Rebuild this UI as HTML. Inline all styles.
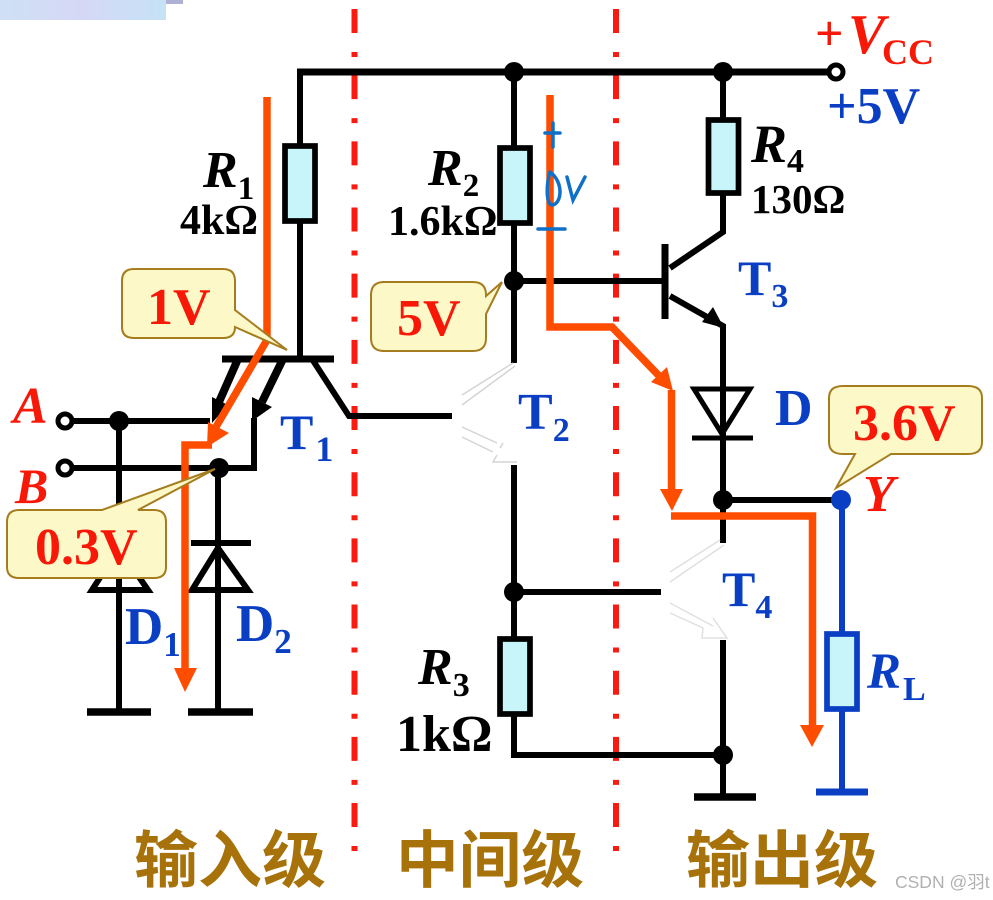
<!DOCTYPE html>
<html><head><meta charset="utf-8"><style>
html,body{margin:0;padding:0;background:#fff}
svg{display:block}
text{font-family:"Liberation Serif","Noto Serif CJK SC",serif;font-weight:bold}
.i{font-style:italic}
.n{font-style:normal}
.k{fill:#000}.b{fill:#0a3fc4}.r{fill:#f81808}
.w{stroke:#000;stroke-width:6;fill:none}
.o{stroke:#ff4d00;stroke-width:7.5;fill:none}
.c{fill:#fdf8c8;stroke:#a57c1e;stroke-width:2}
.g{stroke:#d4d4d4;stroke-width:1.5;fill:none}
.z{font-family:"Noto Sans CJK SC",sans-serif;fill:#a8720a;font-size:62px;font-weight:bold}
</style></head><body>
<svg width="993" height="900" viewBox="0 0 993 900" xmlns="http://www.w3.org/2000/svg">
<defs><linearGradient id="t" x1="0" x2="1"><stop offset="0" stop-color="#cfe0f5"/><stop offset=".5" stop-color="#d5d8f5"/><stop offset="1" stop-color="#c5e2f5"/></linearGradient></defs>
<rect width="993" height="900" fill="#fff"/>
<rect x="0" y="0" width="166" height="20" fill="url(#t)"/>
<rect x="166" y="0" width="17" height="4" fill="#aeb0d4"/>

<!-- dividers -->
<g stroke="#fa1a10" stroke-width="6" fill="none">
<path d="M354.500 9V851" stroke-dasharray="24 19 5 18.170"/>
<path d="M616 9V851" stroke-dasharray="24 19 5 18.170"/>
</g>

<!-- wires -->
<path class="w" style="stroke-width:7" d="M297 72H832"/>
<path class="w" d="M300 72V146M300 222V358"/>
<path class="w" d="M514 72V146M514 222V363M514 281H664M723 72V118M723 193V232L670 268M670 296L723 326V543M723 500H835"/>
<path class="w" style="stroke-width:7" d="M222 359H334"/>
<path class="w" d="M312 359L349 416H452"/>
<path class="w" d="M68 421H210M68 468H254V418M119 421V712M218 468V712"/>
<path class="w" style="stroke-width:8" d="M238 359L219 402"/>
<path class="w" style="stroke-width:8" d="M283 359L262 402"/>
<path d="M212 423L212 397L228 405Z M252 421L252 397L272 407Z" fill="#000"/>
<path class="w" d="M514 465V638M514 592H661M514 714V755H723M723 640V797"/>
<path class="w" style="stroke-width:7.500" d="M87 712H151M188 712H253M694 797H756"/>
<!-- T3 -->
<path d="M665 244V319" stroke="#000" stroke-width="7" fill="none"/>
<path d="M724 328L702 322L713 307Z" fill="#000"/>
<!-- diodes -->
<path d="M694 389H750L722 434Z" fill="none" stroke="#000" stroke-width="5"/>
<path d="M692 438H753" stroke="#000" stroke-width="5"/>
<path d="M191 543H251" fill="none" stroke="#000" stroke-width="6"/>
<path d="M218 548L192 590H248Z" fill="none" stroke="#000" stroke-width="6"/>
<path d="M119 548L92 590H148Z" fill="none" stroke="#000" stroke-width="6"/>
<!-- ghost transistors -->
<path class="g" d="M513 363L462 395M515 366L462 405M462 427L497 443M462 437L493 452M503 443L500 448M497 455L493 462H517"/>
<path class="g" style="stroke:#e0e0e0" d="M720 540L670 572M724 545L670 582M670 603L713 626M670 613L703 628L702 638H727L713 618"/>
<!-- dots -->
<g fill="#000"><circle cx="514" cy="72" r="10"/><circle cx="723" cy="72" r="10"/><circle cx="514" cy="281" r="10"/><circle cx="119" cy="421" r="10"/><circle cx="219" cy="468" r="10"/><circle cx="723" cy="500" r="10"/><circle cx="514" cy="592" r="10"/><circle cx="723" cy="755" r="10"/></g>
<g fill="#fff" stroke="#000" stroke-width="5"><circle cx="65" cy="421" r="7"/><circle cx="65" cy="468" r="7"/><circle cx="836" cy="72" r="7"/></g>
<!-- resistors -->
<g fill="#c8f5fa" stroke="#000" stroke-width="5.700">
<rect x="285" y="146" width="30" height="75"/>
<rect x="500" y="148" width="30" height="75"/>
<rect x="708.500" y="120" width="30" height="73"/>
<rect x="500" y="639" width="30" height="75"/>
</g>
<!-- RL blue -->
<path d="M842 500V632M842 710V792" stroke="#0a3fc4" stroke-width="6" fill="none"/>
<path d="M816 792H868" stroke="#0a3fc4" stroke-width="7" fill="none"/>
<rect x="827" y="634" width="30" height="75" fill="#c8f5fa" stroke="#0a3fc4" stroke-width="5.700"/>
<circle cx="841" cy="500" r="10" fill="#0a3fc4"/>

<!-- orange current -->
<path class="o" d="M267 97V340L213 432"/>
<path d="M207 447L208 422L229 433Z" fill="#ff4d00"/>
<path class="o" d="M212 445H185V670"/>
<path d="M174 668H197L185 692Z" fill="#ff4d00"/>
<path class="o" d="M550 95V327H612L664 381"/>
<path d="M673 391L651 382L667 367Z" fill="#ff4d00"/>
<path class="o" d="M671.500 390V492"/>
<path d="M660 489H683L672 511Z" fill="#ff4d00"/>
<path class="o" d="M671 516H812.500V727"/>
<path d="M800 725H824L812 747Z" fill="#ff4d00"/>

<!-- handwriting -->
<g stroke="#1070c8" stroke-width="3.500" fill="none" stroke-linecap="round">
<path d="M545 133H560M553 123V147M538 229H565"/>
<path d="M550 172C546 185 546 204 552 205C562 204 564 182 550 172M567 177L573 200L585 177"/>
</g>

<!-- callouts -->
<path class="c" d="M134 269H223Q235 269 235 281V310L287 350L235 327V327Q235 338 223 338H134Q122 338 122 327V281Q122 269 134 269Z"/>
<path class="c" d="M19 510H102L215 469L138 510H154Q166 510 166 522V567Q166 578 154 578H19Q7 578 7 567V522Q7 510 19 510Z"/>
<path class="c" d="M384 282H473Q486 282 486 295V296L502 282L486 314V338Q486 351 473 351H384Q371 351 371 338V295Q371 282 384 282Z"/>
<path class="c" d="M843 386H968Q982 386 982 398V442Q982 454 968 454H891L836 488L855 454H843Q829 454 829 442V398Q829 386 843 386Z"/>

<!-- text -->
<text class="r" x="147" y="324" font-size="52">1V</text>
<text class="r" x="35" y="564" font-size="52">0.3V</text>
<text class="r" x="397" y="335" font-size="52">5V</text>
<text class="r" x="853" y="440" font-size="52">3.6V</text>
<text class="r i" x="13" y="423" font-size="52">A</text>
<text class="r i" x="15" y="503" font-size="50">B</text>
<text class="r i" x="863" y="511" font-size="52">Y</text>
<text class="r" x="815" y="50" font-size="50">+</text>
<text class="r i" x="848" y="53" font-size="56">V</text>
<text class="r" x="882" y="64" font-size="36">CC</text>
<text class="b" x="827" y="123" font-size="52">+5V</text>
<text class="k i" x="203" y="187" font-size="52">R<tspan class="n" font-size="33" dy="12">1</tspan></text>
<text class="k" x="180" y="234" font-size="42">4kΩ</text>
<text class="k i" x="428" y="185" font-size="52">R<tspan class="n" font-size="33" dy="11">2</tspan></text>
<text class="k" x="388" y="235" font-size="42">1.6kΩ</text>
<text class="k i" x="751" y="162" font-size="54">R<tspan class="n" font-size="34" dy="10">4</tspan></text>
<text class="k" x="751" y="213" font-size="41">130Ω</text>
<text class="k i" x="418" y="684" font-size="52">R<tspan class="n" font-size="34" dy="12">3</tspan></text>
<text class="k" x="396" y="751" font-size="52">1kΩ</text>
<text class="b i" x="867" y="688" font-size="51">R<tspan class="n" font-size="34" dy="12" dx="2">L</tspan></text>
<text class="b" x="280" y="449" font-size="50">T<tspan font-size="36" dy="12" dx="2">1</tspan></text>
<text class="b" x="518" y="429" font-size="52">T<tspan font-size="34" dy="12">2</tspan></text>
<text class="b" x="738" y="295" font-size="50">T<tspan font-size="34" dy="12">3</tspan></text>
<text class="b" x="722" y="606" font-size="50">T<tspan font-size="34" dy="12">4</tspan></text>
<text class="b" x="775" y="425" font-size="52">D</text>
<text class="b" x="125" y="644" font-size="53">D<tspan font-size="35" dy="12">1</tspan></text>
<text class="b" x="236" y="641" font-size="53">D<tspan font-size="35" dy="12">2</tspan></text>
<text class="z" x="134" y="882" textLength="192" lengthAdjust="spacingAndGlyphs">输入级</text>
<text class="z" x="396" y="882" textLength="188" lengthAdjust="spacingAndGlyphs">中间级</text>
<text class="z" x="686" y="882" textLength="192" lengthAdjust="spacingAndGlyphs">输出级</text>
<text x="895" y="888" font-size="17.500" fill="#b0b0b0" style="font-family:'Liberation Sans','Noto Sans CJK SC',sans-serif;font-weight:normal">CSDN @羽t</text>
</svg>
</body></html>
